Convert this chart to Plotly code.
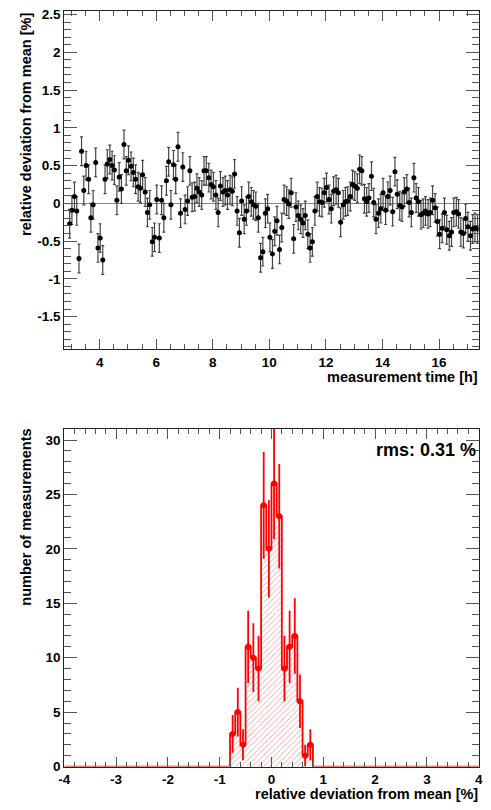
import plotly.graph_objects as go

# ---------------- data: top panel (time series) ----------------
time_h = [
    2.94, 3.02, 3.11, 3.19, 3.27, 3.36, 3.44, 3.52, 3.61, 3.69, 3.77, 3.86,
    3.94, 4.02, 4.11, 4.19, 4.27, 4.36, 4.44, 4.52, 4.61, 4.69, 4.77, 4.86,
    4.94, 5.02, 5.11, 5.19, 5.27, 5.36, 5.44, 5.52, 5.61, 5.69, 5.77, 5.86,
    5.94, 6.02, 6.11, 6.19, 6.27, 6.36, 6.44, 6.52, 6.61, 6.69, 6.77, 6.86,
    6.94, 7.02, 7.11, 7.19, 7.27, 7.36, 7.44, 7.52, 7.61, 7.69, 7.77, 7.86,
    7.94, 8.02, 8.11, 8.19, 8.27, 8.36, 8.44, 8.52, 8.61, 8.69, 8.77, 8.86,
    8.94, 9.02, 9.11, 9.19, 9.27, 9.36, 9.44, 9.52, 9.61, 9.69, 9.77, 9.86,
    9.94, 10.02, 10.11, 10.19, 10.27, 10.36, 10.44, 10.52, 10.61, 10.69, 10.77, 10.86,
    10.94, 11.02, 11.11, 11.19, 11.27, 11.36, 11.44, 11.52, 11.61, 11.69, 11.77, 11.86,
    11.94, 12.02, 12.11, 12.19, 12.27, 12.36, 12.44, 12.52, 12.61, 12.69, 12.77, 12.86,
    12.94, 13.02, 13.11, 13.19, 13.27, 13.36, 13.44, 13.52, 13.61, 13.69, 13.77, 13.86,
    13.94, 14.02, 14.11, 14.19, 14.27, 14.36, 14.44, 14.52, 14.61, 14.69, 14.77, 14.86,
    14.94, 15.02, 15.11, 15.19, 15.27, 15.36, 15.44, 15.52, 15.61, 15.69, 15.77, 15.86,
    15.94, 16.02, 16.11, 16.19, 16.27, 16.36, 16.44, 16.52, 16.61, 16.69, 16.77, 16.86,
    16.94, 17.02, 17.11, 17.19, 17.27, 17.36,
]

deviation = [
    -0.27, -0.09, 0.09, -0.10, -0.73, 0.69, 0.17, 0.50, 0.32, -0.19, -0.02, 0.54,
    -0.59, -0.46, -0.75, 0.32, 0.52, 0.58, 0.50, 0.44, 0.04, 0.35, 0.19, 0.78,
    0.43, 0.57, 0.49, 0.41, 0.32, 0.22, 0.20, 0.38, 0.15, -0.12, -0.02, -0.51,
    -0.45, 0.05, -0.46, 0.04, -0.19, 0.30, 0.55, -0.02, 0.51, 0.32, 0.75, -0.13,
    0.48, -0.08, 0.03, 0.43, 0.08, 0.09, 0.20, 0.15, 0.11, 0.43, 0.43, 0.34,
    0.25, 0.22, 0.11, -0.12, 0.23, 0.15, 0.17, 0.11, 0.18, 0.16, 0.39, -0.10,
    -0.39, 0.03, -0.21, -0.10, 0.09, 0.02, -0.02, -0.04, -0.19, -0.72, -0.64, -0.13,
    -0.07, -0.45, -0.67, -0.37, -0.23, -0.61, -0.32, 0.05, 0.03, -0.01, 0.14, -0.47,
    -0.05, -0.16, -0.21, -0.26, -0.16, -0.41, -0.59, -0.51, -0.10, 0.09, 0.02, 0.01,
    0.14, 0.21, 0.05, -0.07, 0.16, 0.18, 0.14, -0.25, -0.02, 0.02, 0.03, 0.09,
    0.25, 0.23, 0.20, 0.45, 0.43, 0.06, 0.02, 0.07, 0.36, 0.01, -0.21, -0.13,
    -0.07, 0.14, -0.09, 0.09, 0.17, -0.11, 0.42, 0.12, -0.03, -0.05, 0.15, 0.19,
    0.01, -0.12, 0.34, 0.07, 0.02, -0.15, -0.13, -0.10, -0.14, -0.12, 0.04, -0.06,
    -0.24, -0.41, -0.33, -0.12, -0.35, -0.43, -0.38, -0.12, -0.11, -0.14, -0.38, -0.40,
    -0.20, -0.31, -0.43, -0.34, -0.32, -0.34,
]
deviation_err = 0.19

top_x_ticks = [4, 6, 8, 10, 12, 14, 16]
top_x_labels = ["4", "6", "8", "10", "12", "14", "16"]
top_y_ticks = [-1.5, -1, -0.5, 0, 0.5, 1, 1.5, 2, 2.5]
top_y_labels = ["-1.5", "-1", "-0.5", "0", "0.5", "1", "1.5", "2", "2.5"]

# ---------------- data: bottom panel (histogram) ----------------
bin_low = [-0.8, -0.7, -0.6, -0.5, -0.4, -0.3, -0.2, -0.1,
           0.0, 0.1, 0.2, 0.3, 0.4, 0.5, 0.6, 0.7]
bin_counts = [3, 5, 2, 11, 10, 9, 24, 20, 26, 23, 9, 11, 12, 6, 1, 2]
bin_width = 0.1
hist_xrange = [-4.0, 4.0]
bot_x_ticks = [-4, -3, -2, -1, 0, 1, 2, 3, 4]
bot_x_labels = ["-4", "-3", "-2", "-1", "0", "1", "2", "3", "4"]
bot_y_ticks = [0, 5, 10, 15, 20, 25, 30]
bot_y_labels = ["0", "5", "10", "15", "20", "25", "30"]
rms_label = "rms: 0.31 %"

# ---------------- derived ----------------
bin_centers = [lo + bin_width / 2 for lo in bin_low]
bin_errors = [c ** 0.5 for c in bin_counts]
step_x = [hist_xrange[0]] + bin_low + [bin_low[-1] + bin_width, hist_xrange[1]]
step_y = [0] + bin_counts + [0, 0]

W, H = 491, 810
FONT = "Liberation Sans"
tickfont = dict(family=FONT, size=13.5, color="black", weight="bold")
titlefont = dict(family=FONT, size=14.5, color="black", weight="bold")

fig = go.Figure()

fig.add_trace(go.Scatter(
    x=time_h, y=deviation, mode="markers",
    marker=dict(color="black", size=5),
    error_y=dict(type="constant", value=deviation_err, color="#444",
                 thickness=1.2, width=1.5),
    xaxis="x", yaxis="y", showlegend=False, hoverinfo="x+y",
))

fig.add_trace(go.Bar(
    x=bin_centers, y=bin_counts, width=bin_width,
    marker=dict(color="white", line=dict(width=0),
                pattern=dict(shape="/", fgcolor="rgb(235,60,60)", bgcolor="white",
                             size=4, solidity=0.22)),
    xaxis="x2", yaxis="y2", showlegend=False,
))

fig.add_trace(go.Scatter(
    x=step_x, y=step_y, mode="lines",
    line=dict(color="red", width=1.8, shape="hv"),
    xaxis="x2", yaxis="y2", showlegend=False, cliponaxis=True,
))

fig.add_trace(go.Scatter(
    x=bin_centers, y=bin_counts, mode="markers",
    marker=dict(size=0, color="red"),
    error_y=dict(type="data", array=bin_errors, color="red", thickness=1.8, width=0),
    xaxis="x2", yaxis="y2", showlegend=False,
))

axis_common = dict(
    showline=True, linecolor="#222", linewidth=1, mirror="allticks",
    ticks="inside", tickcolor="#555", tickwidth=1, showgrid=False,
    tickfont=tickfont, tickmode="array", fixedrange=True,
)

xdom = [59.5 / W, 482.5 / W]
fig.update_layout(
    width=W, height=H,
    margin=dict(l=0, r=0, t=0, b=0),
    paper_bgcolor="white", plot_bgcolor="white",
    showlegend=False, bargap=0,
    xaxis=dict(axis_common, domain=xdom, anchor="y", range=[2.75, 17.4],
               tickvals=top_x_ticks, ticktext=top_x_labels, ticklen=10,
               zeroline=False,
               minor=dict(ticks="inside", tickmode="linear", tick0=0, dtick=0.5,
                          ticklen=5, tickcolor="#555", showgrid=False)),
    yaxis=dict(axis_common, domain=[1 - 350.5 / H, 1 - 7.5 / H], anchor="x",
               range=[-1.933, 2.542], tickvals=top_y_ticks, ticktext=top_y_labels,
               ticklen=13, zeroline=True, zerolinecolor="#888", zerolinewidth=1,
               minor=dict(ticks="inside", tickmode="linear", tick0=0, dtick=0.1,
                          ticklen=6.5, tickcolor="#555", showgrid=False)),
    xaxis2=dict(axis_common, domain=xdom, anchor="y2", range=hist_xrange,
                tickvals=bot_x_ticks, ticktext=bot_x_labels, ticklen=10,
                zeroline=False,
                minor=dict(ticks="inside", tickmode="linear", tick0=0, dtick=0.2,
                           ticklen=5, tickcolor="#555", showgrid=False)),
    yaxis2=dict(axis_common, domain=[1 - 774 / H, 1 - 431 / H], anchor="x2",
                range=[0, 31.05], tickvals=bot_y_ticks, ticktext=bot_y_labels,
                ticklen=13, zeroline=False,
                minor=dict(ticks="inside", tickmode="linear", tick0=0, dtick=1,
                           ticklen=6.5, tickcolor="#555", showgrid=False)),
    annotations=[
        dict(text="relative deviation from mean [%]", textangle=-90,
             xref="paper", yref="paper", x=21 / W, y=1 - 8 / H,
             xanchor="center", yanchor="top", showarrow=False, font=titlefont,
             borderpad=0),
        dict(text="measurement time [h]", xref="paper", yref="paper",
             x=483 / W, y=1 - 379 / H, xanchor="right", yanchor="middle",
             showarrow=False, font=titlefont, borderpad=0),
        dict(text="number of measurements", textangle=-90,
             xref="paper", yref="paper", x=21 / W, y=1 - 430 / H,
             xanchor="center", yanchor="top", showarrow=False, font=titlefont,
             borderpad=0),
        dict(text="relative deviation from mean [%]", xref="paper", yref="paper",
             x=483 / W, y=1 - 801.5 / H, xanchor="right", yanchor="middle",
             showarrow=False, font=titlefont, borderpad=0),
        dict(text=rms_label, xref="paper", yref="paper",
             x=482 / W, y=1 - 453 / H, xanchor="right", yanchor="middle",
             showarrow=False,
             font=dict(family=FONT, size=18, color="black", weight="bold")),
    ],
)

fig.write_html("out.html",
               config={"displayModeBar": False},
               post_script="document.body.style.margin='0';"
                           "document.body.style.padding='0';"
                           "document.body.style.overflow='hidden';")
